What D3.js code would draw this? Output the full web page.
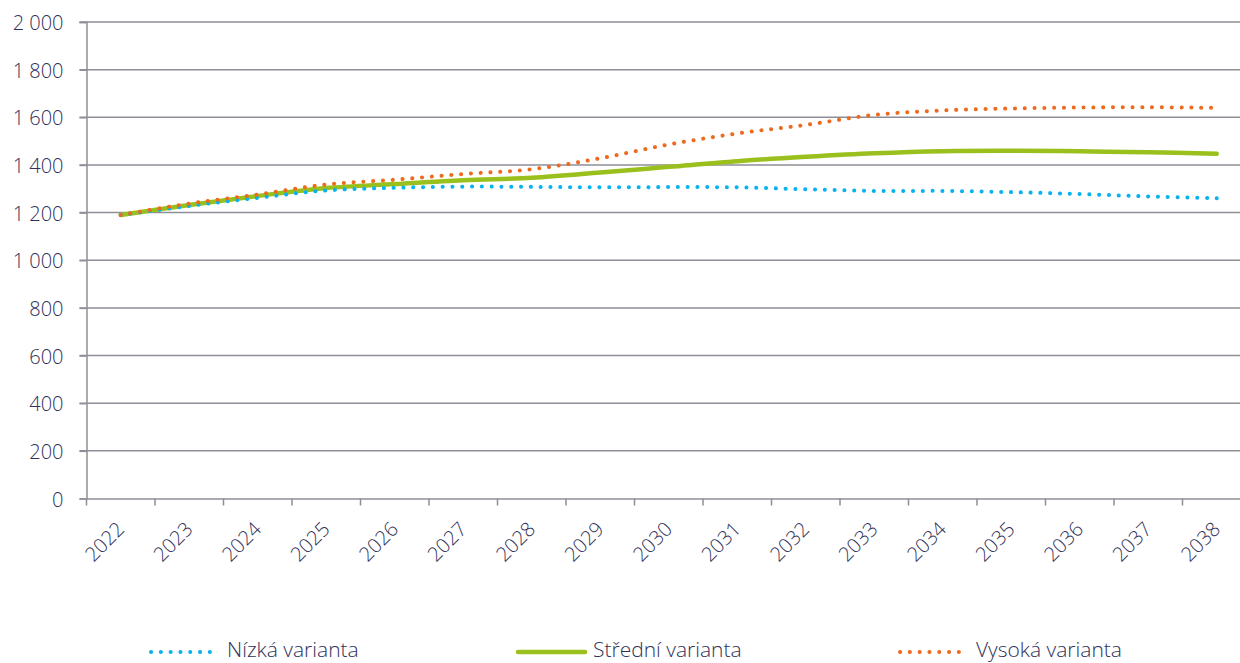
<!DOCTYPE html>
<html>
<head>
<meta charset="utf-8">
<script src="https://cdn.jsdelivr.net/npm/d3@7"></script>
<style>
  body { margin: 0; background: #fff; }
  svg text { font-family: "Open Sans", "Noto Sans", sans-serif; font-weight: 300; fill: #2f3158; }
</style>
</head>
<body>
<script>
// DATA
const YEARS = ['2022', '2023', '2024', '2025', '2026', '2027', '2028', '2029', '2030',
  '2031', '2032', '2033', '2034', '2035', '2036', '2037', '2038'];
const LOW = [1190, 1228, 1262, 1293, 1304, 1309, 1308, 1306, 1307, 1306, 1298, 1291, 1291, 1286, 1278, 1268, 1260];
const MID = [1190, 1232, 1270, 1303, 1320, 1336, 1346, 1368, 1392, 1416, 1434, 1449, 1458, 1460, 1457, 1453, 1447];
const HIGH = [1190, 1238, 1276, 1318, 1338, 1362, 1382, 1428, 1486, 1532, 1568, 1610, 1629, 1637, 1641, 1642, 1640];
const Y_TICKS = [0, 200, 400, 600, 800, 1000, 1200, 1400, 1600, 1800, 2000];
const SERIES_NAMES = ['Nízká varianta', 'Střední varianta', 'Vysoká varianta'];

// CONSTANTS
const WIDTH = 1240;
const HEIGHT = 663;
const LEFT = 86.5;
const RIGHT = 1251;
const TOP = 22;
const BOTTOM = 498.5;
const GRID = '#8e8e98';
const TEXT = '#2f3158';

const series = [
  { name: SERIES_NAMES[0], values: LOW, color: '#08b2ef', dash: '0.1 9.7', width: 4 },
  { name: SERIES_NAMES[1], values: MID, color: '#99c01c', dash: null, width: 4.5 },
  { name: SERIES_NAMES[2], values: HIGH, color: '#ee6a1e', dash: '0.1 9.7', width: 4 }
];

const svg = d3.select('body')
  .append('svg')
  .attr('width', WIDTH)
  .attr('height', HEIGHT);

const X_SCALE = d3.scaleBand()
  .domain(YEARS)
  .range([LEFT, RIGHT]);

const Y_SCALE = d3.scaleLinear()
  .domain([0, 2000])
  .range([BOTTOM, TOP]);

const fmt = (v) => d3.format(',')(v).replace(',', '\u00a0');

// GRIDLINES
svg.append('g')
  .selectAll('line')
  .data(Y_TICKS.filter((d) => d > 0))
  .enter()
  .append('line')
  .attr('x1', LEFT - 7)
  .attr('x2', WIDTH)
  .attr('y1', (d) => Y_SCALE(d))
  .attr('y2', (d) => Y_SCALE(d))
  .attr('stroke', GRID)
  .attr('stroke-width', 1.5);

// Y-AXIS
const Y_AXIS = d3.axisLeft(Y_SCALE).tickValues(Y_TICKS).tickFormat(fmt).tickSize(7).tickPadding(16);
const yAxis = svg.append('g')
  .attr('transform', 'translate(' + LEFT + ',0)')
  .call(Y_AXIS);
yAxis.attr('font-family', null).attr('font-size', null);
yAxis.select('.domain').attr('stroke', GRID).attr('stroke-width', 1.5);
yAxis.selectAll('.tick line').attr('stroke', GRID).attr('stroke-width', 1.5);
yAxis.selectAll('.tick text')
  .attr('dy', '0.38em')
  .attr('fill', TEXT)
  .style('font-size', '20px');

// X-AXIS
const X_AXIS = d3.axisBottom(X_SCALE).tickSize(0).tickFormat('');
const xAxis = svg.append('g')
  .attr('transform', 'translate(0,' + BOTTOM + ')')
  .call(X_AXIS);
xAxis.select('.domain').attr('stroke', GRID).attr('stroke-width', 1.5);

// tick marks between categories
svg.append('g')
  .selectAll('line')
  .data(YEARS)
  .enter()
  .append('line')
  .attr('x1', (d) => X_SCALE(d))
  .attr('x2', (d) => X_SCALE(d))
  .attr('y1', BOTTOM)
  .attr('y2', BOTTOM + 7)
  .attr('stroke', GRID)
  .attr('stroke-width', 1.5);

// rotated year labels
svg.append('g')
  .selectAll('text')
  .data(YEARS)
  .enter()
  .append('text')
  .attr('transform', (d) => 'translate(' + (X_SCALE(d) + X_SCALE.bandwidth() / 2) + ',' + (BOTTOM + 27) + ') rotate(-45)')
  .attr('text-anchor', 'end')
  .attr('dy', '0.35em')
  .style('font-size', '20px')
  .text((d) => d);

// LINES
const line = d3.line()
  .x((d, i) => X_SCALE(YEARS[i]) + X_SCALE.bandwidth() / 2)
  .y((d) => Y_SCALE(d))
  .curve(d3.curveCatmullRom);

// mid first, dotted series on top
[series[1], series[0], series[2]].forEach((s) => {
  svg.append('path')
    .datum(s.values)
    .attr('d', line)
    .attr('fill', 'none')
    .attr('stroke', s.color)
    .attr('stroke-width', s.width)
    .attr('stroke-linecap', 'round')
    .attr('stroke-dasharray', s.dash);
});

// LEGEND
const LEGEND_Y = 651;
const legendPos = [
  { x1: 151, x2: 212, tx: 227 },
  { x1: 518, x2: 585, tx: 593 },
  { x1: 900, x2: 959, tx: 976 }
];
const legend = svg.append('g')
  .selectAll('g')
  .data(series)
  .enter()
  .append('g');

legend.append('line')
  .attr('x1', (d, i) => legendPos[i].x1)
  .attr('x2', (d, i) => legendPos[i].x2)
  .attr('y1', LEGEND_Y + 1)
  .attr('y2', LEGEND_Y + 1)
  .attr('stroke', (d) => d.color)
  .attr('stroke-width', (d) => d.width)
  .attr('stroke-linecap', 'round')
  .attr('stroke-dasharray', (d) => d.dash);

legend.append('text')
  .attr('x', (d, i) => legendPos[i].tx)
  .attr('y', LEGEND_Y)
  .attr('dy', '0.3em')
  .style('font-size', '21px')
  .text((d) => d.name);
</script>
</body>
</html>
